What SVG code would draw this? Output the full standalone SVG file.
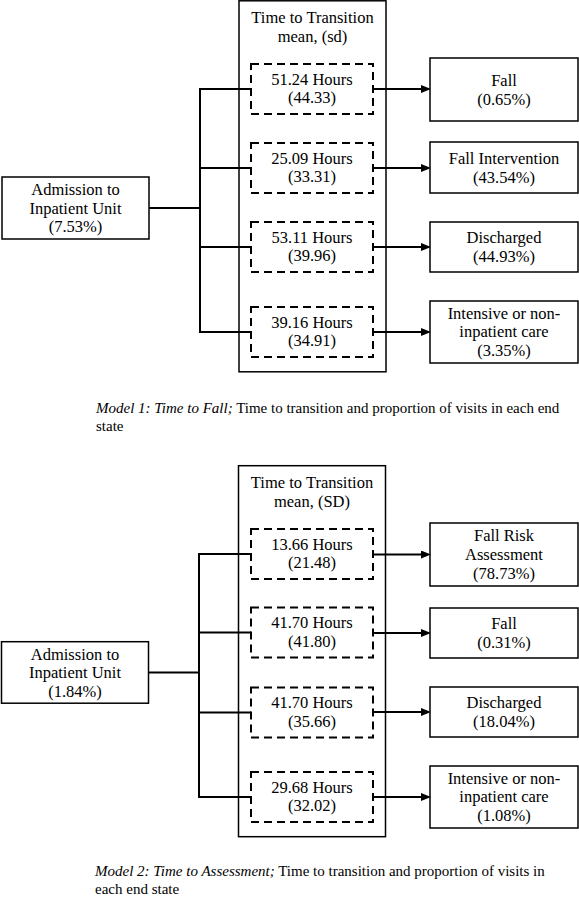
<svg xmlns="http://www.w3.org/2000/svg" width="579" height="897" viewBox="0 0 579 897">
<defs>
<style>
text{font-family:"Liberation Serif","Times New Roman",serif;fill:#000}
.t{font-size:16.5px;text-anchor:middle}
.cap{font-size:15px}
.it{font-style:italic}
.box{fill:#fff;stroke:#000;stroke-width:1.5}
.outer{fill:none;stroke:#000;stroke-width:1.5}
.dash{fill:none;stroke:#000;stroke-width:2;stroke-dasharray:8 5}
.con{fill:none;stroke:#000;stroke-width:2}
</style>
<marker id="ah" viewBox="0 0 10 8" refX="3" refY="4" markerWidth="10" markerHeight="8" markerUnits="userSpaceOnUse" orient="auto">
<path d="M0,0 L10,4 L0,8 Z" fill="#000"/>
</marker>
</defs>

<!-- Model 1 -->
<g id="m1-outer">
<rect class="outer" x="239" y="0.8" width="147" height="371"/>
<text class="t" x="312.5" y="22.5">Time to Transition</text>
<text class="t" x="312.5" y="41.5">mean, (sd)</text>
</g>
<g id="m1-admission">
<rect class="box" x="2" y="177" width="147" height="62"/>
<text class="t" x="75.5" y="195">Admission to</text>
<text class="t" x="75.5" y="213.5">Inpatient Unit</text>
<text class="t" x="75.5" y="232">(7.53%)</text>
</g>
<g id="m1-t1">
<rect class="dash" x="251" y="64" width="122" height="50"/>
<text class="t" x="312" y="84.5">51.24 Hours</text>
<text class="t" x="312" y="103">(44.33)</text>
</g>
<g id="m1-t2">
<rect class="dash" x="251" y="143" width="122" height="50"/>
<text class="t" x="312" y="163.5">25.09 Hours</text>
<text class="t" x="312" y="182">(33.31)</text>
</g>
<g id="m1-t3">
<rect class="dash" x="251" y="222" width="122" height="50"/>
<text class="t" x="312" y="242.5">53.11 Hours</text>
<text class="t" x="312" y="261">(39.96)</text>
</g>
<g id="m1-t4">
<rect class="dash" x="251" y="307" width="122" height="50"/>
<text class="t" x="312" y="327.5">39.16 Hours</text>
<text class="t" x="312" y="346">(34.91)</text>
</g>
<g id="m1-fall">
<rect class="box" x="430" y="58" width="148" height="63"/>
<text class="t" x="504" y="86">Fall</text>
<text class="t" x="504" y="105">(0.65%)</text>
</g>
<g id="m1-fallint">
<rect class="box" x="430" y="142" width="148" height="51"/>
<text class="t" x="504" y="163.5">Fall Intervention</text>
<text class="t" x="504" y="182.5">(43.54%)</text>
</g>
<g id="m1-discharged">
<rect class="box" x="430" y="222" width="148" height="50"/>
<text class="t" x="504" y="243">Discharged</text>
<text class="t" x="504" y="262">(44.93%)</text>
</g>
<g id="m1-intensive">
<rect class="box" x="430" y="301" width="148" height="62"/>
<text class="t" x="504" y="318.5">Intensive or non-</text>
<text class="t" x="504" y="337">inpatient care</text>
<text class="t" x="504" y="355.5">(3.35%)</text>
</g>

<!-- Model 2 -->
<g id="m2-outer">
<rect class="outer" x="238.5" y="465.7" width="147" height="371"/>
<text class="t" x="312" y="487.5">Time to Transition</text>
<text class="t" x="312" y="506.5">mean, (SD)</text>
</g>
<g id="m2-admission">
<rect class="box" x="1.5" y="641.7" width="147" height="61.5"/>
<text class="t" x="75" y="659.5">Admission to</text>
<text class="t" x="75" y="678">Inpatient Unit</text>
<text class="t" x="75" y="696.5">(1.84%)</text>
</g>
<g id="m2-t1">
<rect class="dash" x="251" y="529" width="122" height="50"/>
<text class="t" x="312" y="549.5">13.66 Hours</text>
<text class="t" x="312" y="568">(21.48)</text>
</g>
<g id="m2-t2">
<rect class="dash" x="251" y="607.5" width="122" height="50"/>
<text class="t" x="312" y="628">41.70 Hours</text>
<text class="t" x="312" y="646.5">(41.80)</text>
</g>
<g id="m2-t3">
<rect class="dash" x="251" y="687.5" width="122" height="50"/>
<text class="t" x="312" y="708">41.70 Hours</text>
<text class="t" x="312" y="726.5">(35.66)</text>
</g>
<g id="m2-t4">
<rect class="dash" x="251" y="772" width="122" height="50"/>
<text class="t" x="312" y="792.5">29.68 Hours</text>
<text class="t" x="312" y="811">(32.02)</text>
</g>
<g id="m2-fra">
<rect class="box" x="430" y="523" width="148" height="63"/>
<text class="t" x="504" y="541">Fall Risk</text>
<text class="t" x="504" y="560">Assessment</text>
<text class="t" x="504" y="579">(78.73%)</text>
</g>
<g id="m2-fall">
<rect class="box" x="430" y="608" width="148" height="50"/>
<text class="t" x="504" y="628.5">Fall</text>
<text class="t" x="504" y="647.5">(0.31%)</text>
</g>
<g id="m2-discharged">
<rect class="box" x="430" y="687" width="148" height="50"/>
<text class="t" x="504" y="707.5">Discharged</text>
<text class="t" x="504" y="726.5">(18.04%)</text>
</g>
<g id="m2-intensive">
<rect class="box" x="430" y="766" width="148" height="62"/>
<text class="t" x="504" y="783.5">Intensive or non-</text>
<text class="t" x="504" y="802">inpatient care</text>
<text class="t" x="504" y="820.5">(1.08%)</text>
</g>

<!-- Connectors -->
<g id="connectors">
<path class="con" d="M149,208 H200 M200,88 V333 M199,89 H251 M199,168 H251 M199,247 H251 M199,332 H251"/>
<path class="con" d="M373,89 H424" marker-end="url(#ah)"/>
<path class="con" d="M373,168 H424" marker-end="url(#ah)"/>
<path class="con" d="M373,247 H424" marker-end="url(#ah)"/>
<path class="con" d="M373,332 H424" marker-end="url(#ah)"/>
<path class="con" d="M148.5,672.5 H199 M199,553 V798 M198,554 H251 M198,632.5 H251 M198,712.5 H251 M198,797 H251"/>
<path class="con" d="M373,554.5 H424" marker-end="url(#ah)"/>
<path class="con" d="M373,633 H424" marker-end="url(#ah)"/>
<path class="con" d="M373,712 H424" marker-end="url(#ah)"/>
<path class="con" d="M373,797 H424" marker-end="url(#ah)"/>
</g>

<!-- Captions -->
<text class="cap" x="96" y="413"><tspan class="it">Model 1: Time to Fall;</tspan> Time to transition and proportion of visits in each end</text>
<text class="cap" x="96" y="431">state</text>
<text class="cap" x="95" y="876"><tspan class="it">Model 2: Time to Assessment;</tspan> Time to transition and proportion of visits in</text>
<text class="cap" x="95" y="894">each end state</text>
</svg>
